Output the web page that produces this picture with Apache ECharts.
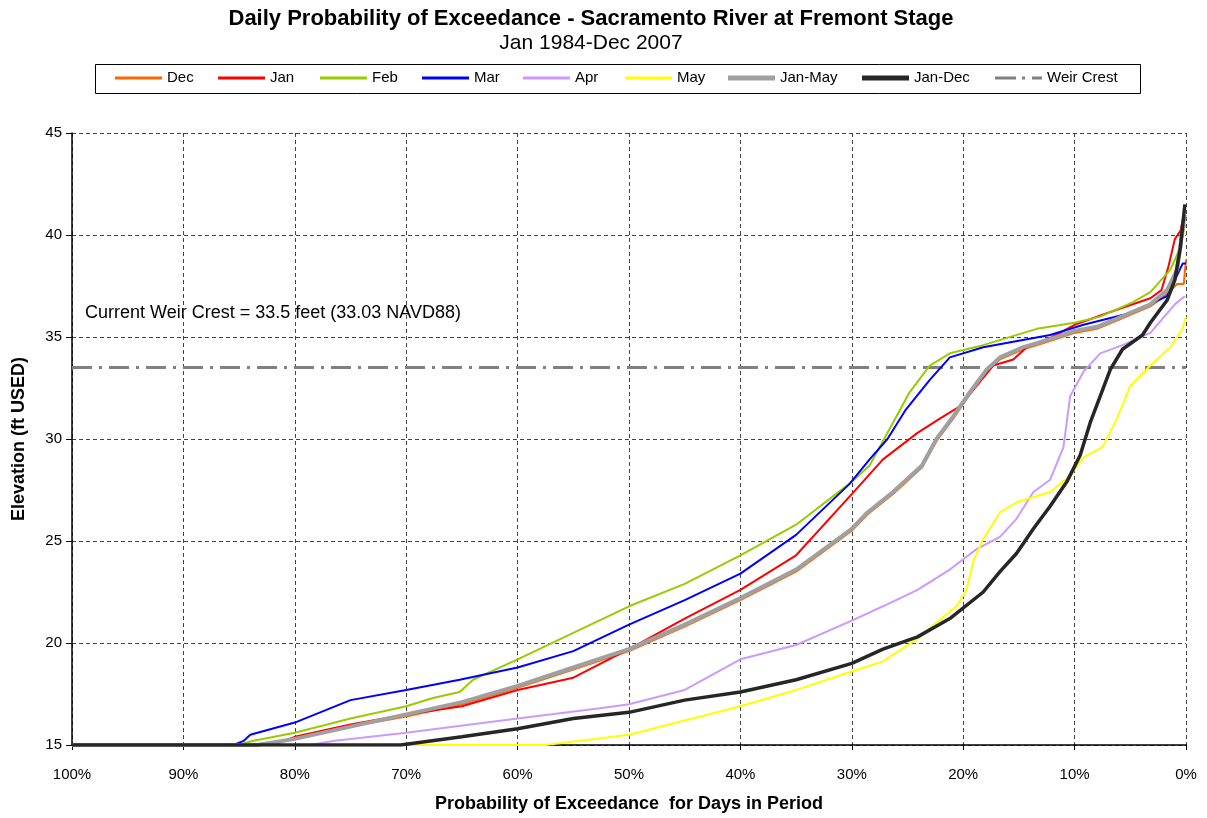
<!DOCTYPE html>
<html>
<head>
<meta charset="utf-8">
<script src="https://cdn.jsdelivr.net/npm/echarts@6/dist/echarts.min.js"></script>
<style>
html,body{margin:0;padding:0;background:#fff;}
#chart{width:1207px;height:818px;}
</style>
</head>
<body>
<div id="chart"></div>
<script>
// ---- data: [probability of exceedance (%), elevation (ft USED)] ----
const xTicks = [100, 90, 80, 70, 60, 50, 40, 30, 20, 10, 0];
const yTicks = [15, 20, 25, 30, 35, 40, 45];
const weirCrest = 33.5;

const dec = [[100,15],[83,15],[80,15.3],[75,15.9],[70,16.4],[65,17.0],[60,17.8],[55,18.7],[50,19.6],[45,20.8],[40,22.1],[35,23.5],[30,25.5],[28.6,26.3],[26.3,27.3],[23.7,28.6],[22.4,29.9],[20.9,31.0],[19.4,32.2],[17.9,33.3],[16.7,33.9],[14.6,34.4],[12.2,34.8],[10,35.2],[8,35.4],[6.2,35.8],[3.2,36.5],[1.7,37.1],[0.8,37.6],[0.2,37.6],[0,38.8]];
const jan = [[100,15],[82,15],[80,15.4],[75,16.0],[70,16.5],[65,16.9],[60,17.7],[55,18.3],[50,19.7],[45,21.2],[40,22.6],[35,24.3],[30,27.3],[27.2,29.0],[24.1,30.3],[22.1,31.0],[20.3,31.6],[18.8,32.6],[17.3,33.6],[15.5,33.9],[14.3,34.5],[12,35.0],[10,35.6],[5.9,36.4],[3.2,36.9],[2.2,37.3],[1.6,38.4],[1.0,39.8],[0.5,40.2],[0.2,41.0]];
const feb = [[100,15],[85.1,15],[83.8,15.2],[80,15.6],[75,16.3],[70,16.9],[67.6,17.3],[65.2,17.6],[64,18.2],[60,19.2],[55,20.5],[50,21.8],[45,22.9],[40,24.3],[35,25.8],[30,27.9],[28.4,28.7],[26.6,30.5],[24.8,32.3],[23,33.6],[21.2,34.2],[18.2,34.6],[13.4,35.4],[10,35.7],[7.7,36.0],[4.8,36.7],[3.2,37.2],[1.4,38.3],[0.5,39.4],[0.1,40.5]];
const mar = [[100,15],[85.5,15],[84.6,15.2],[84,15.5],[80,16.1],[75,17.2],[70,17.7],[65.2,18.2],[60,18.8],[55,19.6],[50,20.9],[45,22.1],[40,23.4],[35,25.3],[30.2,27.8],[28.4,29.0],[26.8,30.0],[25.2,31.4],[23,32.9],[21.2,34.0],[18.2,34.5],[12.2,35.1],[9.2,35.6],[4.8,36.2],[1.7,37.0],[0.3,38.6],[0,38.6]];
const apr = [[100,15],[78.6,15],[76.6,15.2],[70,15.6],[60,16.3],[52.6,16.8],[50,17.0],[45,17.7],[40,19.2],[35,19.9],[30,21.1],[27.2,21.8],[24.1,22.6],[21.2,23.6],[18.8,24.6],[16.7,25.2],[15.2,26.1],[13.7,27.4],[12.2,28.0],[11,29.6],[10.4,32.1],[9.2,33.3],[7.7,34.2],[5.7,34.6],[3.2,35.2],[1.0,36.6],[0.1,37.0]];
const may = [[100,15],[57.5,15],[50,15.5],[45,16.2],[40,16.9],[35,17.7],[30,18.6],[27.2,19.1],[24.1,20.2],[22.4,21.0],[20.6,21.8],[19.7,22.6],[19.1,24.0],[18.2,25.1],[16.7,26.4],[15.2,26.9],[12.2,27.4],[10.4,28.2],[9.2,29.1],[7.5,29.6],[6.2,31.0],[5.0,32.6],[3.2,33.6],[1.4,34.5],[0.3,35.4],[0,36.0]];
const janMay = [[100,15],[83.4,15],[80,15.3],[75,15.9],[70,16.5],[65,17.1],[60,17.9],[55,18.8],[50,19.7],[45,20.9],[40,22.2],[35,23.6],[30,25.6],[28.6,26.4],[26.3,27.4],[23.7,28.7],[22.4,30.0],[20.9,31.1],[19.4,32.3],[17.9,33.4],[16.7,34.0],[14.6,34.5],[12.2,34.9],[10,35.3],[8,35.5],[6.2,35.9],[3.2,36.6],[1.7,37.3],[0.8,38.3],[0.36,40.1],[0.1,41.0]];
const janDec = [[100,15],[70.5,15],[65,15.4],[60,15.8],[55,16.3],[50,16.6],[45,17.2],[40,17.6],[35,18.2],[30,19.0],[27.2,19.7],[24.1,20.3],[21.2,21.2],[18.2,22.5],[16.7,23.5],[15.2,24.4],[13.7,25.6],[12.2,26.7],[10.7,27.9],[9.5,29.2],[8.6,30.8],[7.7,32.1],[6.8,33.4],[5.7,34.4],[3.9,35.1],[3.2,35.7],[1.7,36.8],[1.0,37.8],[0.5,39.4],[0.1,41.5]];

const seriesNames = ['Dec','Jan','Feb','Mar','Apr','May','Jan-May','Jan-Dec','Weir Crest'];
const seriesData = [dec, jan, feb, mar, apr, may, janMay, janDec, [[xTicks[0], weirCrest],[xTicks[xTicks.length-1], weirCrest]]];
const seriesColors = ['#FF6600','#FF0000','#99CC00','#0000FF','#CC99FF','#FFFF00','#A0A0A0','#262626','#808080'];
const seriesWidths = [2,2,2,2,2,2,4,3.5,3];
const legendLeft = [115,218,320,422,523,625,728,862,995];
const legendThick = [3,3,3,3,3,3,5,5,3];

const FONT = '"Liberation Sans", Arial, sans-serif';
const WEIR_ICON = 'path://M0,0H21V3H0Z M27,0H30V3H27Z M37,0H47V3H37Z';

const chart = echarts.init(document.getElementById('chart'), null, {renderer:'canvas'});

const series = seriesNames.map((n,i)=>({
  name:n, type:'line', data:seriesData[i], symbol:'none', showSymbol:false,
  clip:true, animation:false,
  lineStyle:{color:seriesColors[i], width:seriesWidths[i], type: n==='Weir Crest' ? [20,7,3,7] : 'solid', cap:'butt'},
  itemStyle:{color:seriesColors[i]},
  z: n==='Weir Crest' ? 1 : 2 + i
}));

const legends = seriesNames.map((n,i)=>({
  data:[{name:n, icon: n==='Weir Crest' ? WEIR_ICON : 'rect'}],
  left:legendLeft[i], top:69, itemWidth:47, itemHeight:legendThick[i], itemGap:0,
  textStyle:{fontFamily:FONT, fontSize:15, color:'#000', lineHeight:18},
  itemStyle:{opacity:1},
  padding:0, selectedMode:false
}));

chart.setOption({
  animation:false,
  backgroundColor:'#fff',
  title:[
    {text:'Daily Probability of Exceedance - Sacramento River at Fremont Stage',
     left:591, textAlign:'center', top:8, padding:0,
     textStyle:{fontFamily:FONT, fontSize:22, fontWeight:'bold', color:'#000'}},
    {text:'Jan 1984-Dec 2007',
     left:591, textAlign:'center', top:33, padding:0,
     textStyle:{fontFamily:FONT, fontSize:21, fontWeight:'normal', color:'#000'}}
  ],
  legend: legends,
  graphic:[
    {type:'rect', left:93, top:62, shape:{width:1045, height:29}, style:{fill:'none', stroke:'#000', lineWidth:1}, silent:true},
    {type:'text', left:85, top:304, style:{text:'Current Weir Crest = 33.5 feet (33.03 NAVD88)', font:'18px '+FONT, fill:'#000'}, silent:true}
  ],
  grid:{left:72, right:21, top:133, bottom:72, containLabel:false},
  xAxis:{
    type:'value', inverse:true, min:xTicks[xTicks.length-1], max:xTicks[0], interval:10,
    name:'Probability of Exceedance  for Days in Period', nameLocation:'middle', nameGap:50,
    nameTextStyle:{fontFamily:FONT, fontSize:18, fontWeight:'bold', color:'#000'},
    axisLine:{show:true, onZero:false, lineStyle:{color:'#000', width:1.5}},
    axisTick:{show:true, inside:false, length:5, lineStyle:{color:'#000'}},
    axisLabel:{formatter:'{value}%', fontFamily:FONT, fontSize:15, color:'#000', margin:22},
    splitLine:{show:true, lineStyle:{color:'#444', width:1, type:[4,3]}}
  },
  yAxis:{
    type:'value', min:yTicks[0], max:yTicks[yTicks.length-1], interval:5,
    name:'Elevation (ft USED)', nameLocation:'middle', nameGap:44, nameRotate:90,
    nameTextStyle:{fontFamily:FONT, fontSize:18, fontWeight:'bold', color:'#000'},
    axisLine:{show:true, onZero:false, lineStyle:{color:'#000', width:1.5}},
    axisTick:{show:true, inside:false, length:6, lineStyle:{color:'#000'}},
    axisLabel:{fontFamily:FONT, fontSize:15, color:'#000', margin:10},
    splitLine:{show:true, lineStyle:{color:'#444', width:1, type:[4,3]}}
  },
  series: series
});
</script>
</body>
</html>
